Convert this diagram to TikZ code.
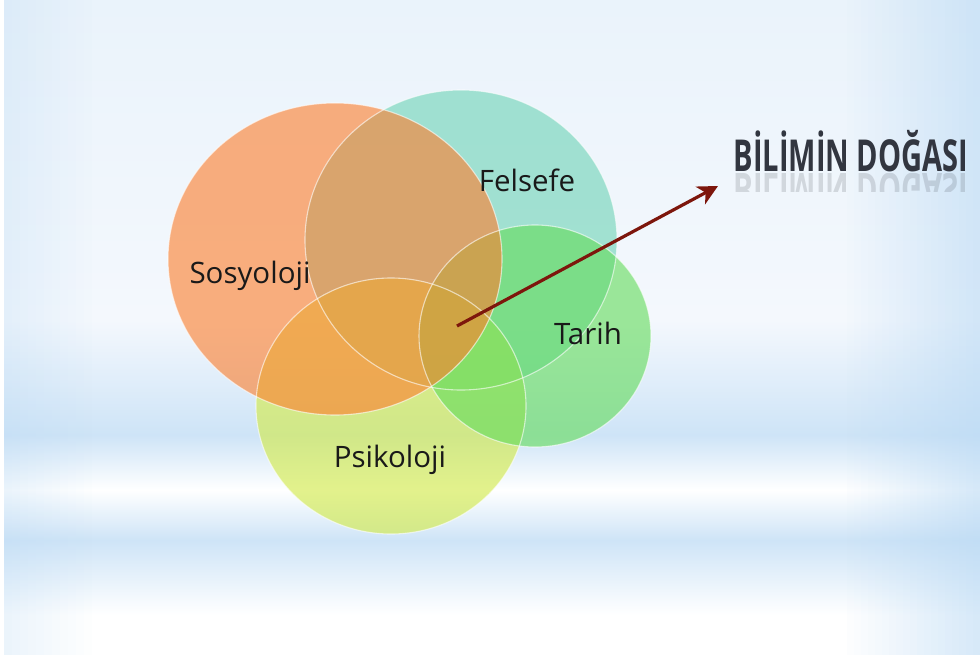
\documentclass[tikz,border=0pt]{standalone}
\usepackage{fontspec}
\setmainfont{Open Sans}
\usetikzlibrary{arrows.meta}

\definecolor{bgTop}{RGB}{234,243,251}
\definecolor{bgMid}{RGB}{244,248,253}
\definecolor{bgBlue}{RGB}{206,228,247}
\definecolor{bgEdge}{RGB}{185,217,244}
\definecolor{sosC}{RGB}{252,128,48}
\definecolor{felC}{RGB}{112,212,184}
\definecolor{tarC}{RGB}{100,220,92}
\definecolor{psiC}{RGB}{210,234,70}
\definecolor{arrowC}{RGB}{125,22,12}
\definecolor{titleC}{RGB}{50,54,64}

\tikzset{
  bubble/.style={fill opacity=0.62},
  rim/.style={draw=white, draw opacity=0.6, line width=1.1pt},
  lbl/.style={font=\fontsize{29.5}{32}\selectfont, text=black!90},
  ttl/.style={font=\bfseries\fontsize{44}{48}\selectfont, text=titleC, xscale=0.66, anchor=base},
}

\begin{document}
\begin{tikzpicture}[x=1pt,y=-1pt]
\useasboundingbox (0,0) rectangle (980,655);

% soft sky backdrop: stacked horizontal bands
\shade[top color=bgTop, bottom color=bgMid] (0,0) rectangle (980,320);
\shade[top color=bgMid, bottom color=bgBlue] (0,320) rectangle (980,435);
\shade[top color=bgBlue, bottom color=white] (0,435) rectangle (980,490);
\shade[top color=white, bottom color=bgBlue] (0,490) rectangle (980,540);
\shade[top color=bgBlue, bottom color=white] (0,540) rectangle (980,615);
\fill[white] (0,615) rectangle (980,655);
% bluish side edges, built from thin strips of rising opacity
\foreach \i in {0,...,19}{
  \fill[bgEdge, opacity=0.03*\i] (840+7*\i,0) rectangle (847+7*\i,655);
}
\foreach \i in {0,...,11}{
  \fill[bgEdge, opacity=0.025*\i] (100-8*\i,0) rectangle (92-8*\i,655);
}
\fill[white] (0,0) rectangle (4,655);

% overlapping fields
\fill[felC, bubble] (461,240) ellipse [x radius=156, y radius=150];
\fill[psiC, bubble] (391,406) ellipse [x radius=135, y radius=128];
\fill[tarC, bubble] (535,336) ellipse [x radius=116, y radius=111];
\fill[sosC, bubble] (335,259) ellipse [x radius=167, y radius=156];
\draw[rim] (461,240) ellipse [x radius=156, y radius=150];
\draw[rim] (391,406) ellipse [x radius=135, y radius=128];
\draw[rim] (535,336) ellipse [x radius=116, y radius=111];
\draw[rim] (335,259) ellipse [x radius=167, y radius=156];

\node[lbl] (sos) at (250,276) {Sosyoloji};
\node[lbl] (fel) at (527,180) {Felsefe};
\node[lbl] (tar) at (588,333) {Tarih};
\node[lbl] (psi) at (390,460) {Psikoloji};

% title with a faint mirrored reflection
\node[ttl] (title) at (851,172) {BİLİMİN DOĞASI};
\begin{scope}
  \clip (700,174) rectangle (980,192);
  \node[ttl, yscale=-1, text opacity=0.16] (titlerefl) at (851,174) {BİLİMİN DOĞASI};
\end{scope}

% pointer from the common overlap toward the title
\coordinate (core) at (457,326);
\coordinate (tip) at (718,186);
\draw[arrowC, line width=3.2pt, -{Stealth[length=20pt,width=20pt,inset=6pt]}] (core) -- (tip);
\end{tikzpicture}
\end{document}
